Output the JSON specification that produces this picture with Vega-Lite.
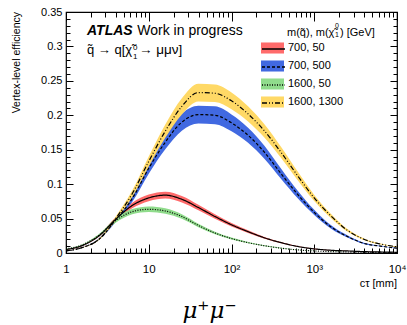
{
  "$schema": "https://vega.github.io/schema/vega-lite/v6.json",
  "width": 331,
  "height": 241,
  "autosize": "none",
  "padding": {"left": 66, "top": 12, "right": 10, "bottom": 72},
  "background": "white",
  "config": {"view": {"stroke": "black", "strokeWidth": 1.2}, "font": "Liberation Sans", "axis": {"zindex": 1}},
  "title": {"text": "μ⁺μ⁻", "orient": "bottom", "anchor": "middle", "font": "DejaVu Serif", "fontStyle": "italic", "fontSize": 23, "fontWeight": "normal", "color": "black", "dx": -22, "offset": 11},
  "data": {"values": [
    {"sample":"700, 50","ct":1,"eff":0.005,"lo":0.0047,"hi":0.0053},
    {"sample":"700, 50","ct":1.585,"eff":0.011,"lo":0.0103,"hi":0.0117},
    {"sample":"700, 50","ct":2.512,"eff":0.025,"lo":0.0235,"hi":0.0265},
    {"sample":"700, 50","ct":3.981,"eff":0.049,"lo":0.0461,"hi":0.0519},
    {"sample":"700, 50","ct":6.31,"eff":0.069,"lo":0.0649,"hi":0.0731},
    {"sample":"700, 50","ct":10,"eff":0.080,"lo":0.0752,"hi":0.0848},
    {"sample":"700, 50","ct":15.85,"eff":0.084,"lo":0.079,"hi":0.089},
    {"sample":"700, 50","ct":25.12,"eff":0.078,"lo":0.0733,"hi":0.0827},
    {"sample":"700, 50","ct":39.81,"eff":0.066,"lo":0.062,"hi":0.070},
    {"sample":"700, 50","ct":63.1,"eff":0.053,"lo":0.0498,"hi":0.0562},
    {"sample":"700, 50","ct":100,"eff":0.041,"lo":0.0385,"hi":0.0435},
    {"sample":"700, 50","ct":158.5,"eff":0.031,"lo":0.0291,"hi":0.0329},
    {"sample":"700, 50","ct":251.2,"eff":0.022,"lo":0.0207,"hi":0.0233},
    {"sample":"700, 50","ct":398.1,"eff":0.015,"lo":0.0141,"hi":0.0159},
    {"sample":"700, 50","ct":631,"eff":0.0095,"lo":0.0089,"hi":0.0101},
    {"sample":"700, 50","ct":1000,"eff":0.006,"lo":0.0056,"hi":0.0064},
    {"sample":"700, 50","ct":1585,"eff":0.004,"lo":0.0038,"hi":0.0042},
    {"sample":"700, 50","ct":2512,"eff":0.003,"lo":0.0028,"hi":0.0032},
    {"sample":"700, 50","ct":3981,"eff":0.002,"lo":0.0019,"hi":0.0021},
    {"sample":"700, 50","ct":6310,"eff":0.0015,"lo":0.0014,"hi":0.0016},
    {"sample":"700, 50","ct":10000,"eff":0.001,"lo":0.0009,"hi":0.0011},
    {"sample":"700, 500","ct":1,"eff":0.003,"lo":0.0028,"hi":0.0032},
    {"sample":"700, 500","ct":1.585,"eff":0.008,"lo":0.0075,"hi":0.0085},
    {"sample":"700, 500","ct":2.512,"eff":0.020,"lo":0.0187,"hi":0.0213},
    {"sample":"700, 500","ct":3.981,"eff":0.048,"lo":0.0449,"hi":0.0511},
    {"sample":"700, 500","ct":6.31,"eff":0.079,"lo":0.0739,"hi":0.0841},
    {"sample":"700, 500","ct":10,"eff":0.123,"lo":0.115,"hi":0.131},
    {"sample":"700, 500","ct":15.85,"eff":0.161,"lo":0.1505,"hi":0.1715},
    {"sample":"700, 500","ct":25.12,"eff":0.190,"lo":0.1775,"hi":0.2025},
    {"sample":"700, 500","ct":39.81,"eff":0.201,"lo":0.188,"hi":0.214},
    {"sample":"700, 500","ct":63.1,"eff":0.200,"lo":0.187,"hi":0.213},
    {"sample":"700, 500","ct":100,"eff":0.189,"lo":0.1767,"hi":0.2013},
    {"sample":"700, 500","ct":158.5,"eff":0.171,"lo":0.16,"hi":0.182},
    {"sample":"700, 500","ct":251.2,"eff":0.146,"lo":0.1365,"hi":0.1555},
    {"sample":"700, 500","ct":398.1,"eff":0.115,"lo":0.1075,"hi":0.1225},
    {"sample":"700, 500","ct":631,"eff":0.085,"lo":0.0795,"hi":0.0905},
    {"sample":"700, 500","ct":1000,"eff":0.059,"lo":0.0552,"hi":0.0628},
    {"sample":"700, 500","ct":1585,"eff":0.038,"lo":0.0355,"hi":0.0405},
    {"sample":"700, 500","ct":2512,"eff":0.024,"lo":0.0224,"hi":0.0256},
    {"sample":"700, 500","ct":3981,"eff":0.014,"lo":0.0131,"hi":0.0149},
    {"sample":"700, 500","ct":6310,"eff":0.010,"lo":0.0094,"hi":0.0106},
    {"sample":"700, 500","ct":10000,"eff":0.007,"lo":0.0065,"hi":0.0075},
    {"sample":"1600, 50","ct":1,"eff":0.006,"lo":0.0056,"hi":0.0064},
    {"sample":"1600, 50","ct":1.585,"eff":0.012,"lo":0.0112,"hi":0.0128},
    {"sample":"1600, 50","ct":2.512,"eff":0.026,"lo":0.0243,"hi":0.0277},
    {"sample":"1600, 50","ct":3.981,"eff":0.047,"lo":0.0439,"hi":0.0501},
    {"sample":"1600, 50","ct":6.31,"eff":0.060,"lo":0.0561,"hi":0.0639},
    {"sample":"1600, 50","ct":10,"eff":0.0635,"lo":0.0594,"hi":0.0676},
    {"sample":"1600, 50","ct":15.85,"eff":0.061,"lo":0.057,"hi":0.065},
    {"sample":"1600, 50","ct":25.12,"eff":0.053,"lo":0.0496,"hi":0.0564},
    {"sample":"1600, 50","ct":39.81,"eff":0.040,"lo":0.0374,"hi":0.0426},
    {"sample":"1600, 50","ct":63.1,"eff":0.029,"lo":0.0271,"hi":0.0309},
    {"sample":"1600, 50","ct":100,"eff":0.021,"lo":0.0196,"hi":0.0224},
    {"sample":"1600, 50","ct":158.5,"eff":0.015,"lo":0.014,"hi":0.016},
    {"sample":"1600, 50","ct":251.2,"eff":0.0105,"lo":0.0098,"hi":0.0112},
    {"sample":"1600, 50","ct":398.1,"eff":0.007,"lo":0.0065,"hi":0.0075},
    {"sample":"1600, 50","ct":631,"eff":0.0045,"lo":0.0042,"hi":0.0048},
    {"sample":"1600, 50","ct":1000,"eff":0.003,"lo":0.0028,"hi":0.0032},
    {"sample":"1600, 50","ct":1585,"eff":0.002,"lo":0.0019,"hi":0.0021},
    {"sample":"1600, 50","ct":2512,"eff":0.0015,"lo":0.0014,"hi":0.0016},
    {"sample":"1600, 50","ct":3981,"eff":0.001,"lo":0.00094,"hi":0.00106},
    {"sample":"1600, 50","ct":6310,"eff":0.0008,"lo":0.00075,"hi":0.00085},
    {"sample":"1600, 50","ct":10000,"eff":0.0005,"lo":0.00047,"hi":0.00053},
    {"sample":"1600, 1300","ct":1,"eff":0.003,"lo":0.0028,"hi":0.0032},
    {"sample":"1600, 1300","ct":1.585,"eff":0.008,"lo":0.0076,"hi":0.0084},
    {"sample":"1600, 1300","ct":2.512,"eff":0.020,"lo":0.0189,"hi":0.0211},
    {"sample":"1600, 1300","ct":3.981,"eff":0.050,"lo":0.0473,"hi":0.0527},
    {"sample":"1600, 1300","ct":6.31,"eff":0.086,"lo":0.0813,"hi":0.0907},
    {"sample":"1600, 1300","ct":10,"eff":0.133,"lo":0.1257,"hi":0.1403},
    {"sample":"1600, 1300","ct":15.85,"eff":0.177,"lo":0.1673,"hi":0.1867},
    {"sample":"1600, 1300","ct":25.12,"eff":0.213,"lo":0.2013,"hi":0.2247},
    {"sample":"1600, 1300","ct":39.81,"eff":0.233,"lo":0.2202,"hi":0.2458},
    {"sample":"1600, 1300","ct":63.1,"eff":0.232,"lo":0.2192,"hi":0.2448},
    {"sample":"1600, 1300","ct":100,"eff":0.221,"lo":0.2088,"hi":0.2332},
    {"sample":"1600, 1300","ct":158.5,"eff":0.202,"lo":0.1909,"hi":0.2131},
    {"sample":"1600, 1300","ct":251.2,"eff":0.177,"lo":0.1673,"hi":0.1867},
    {"sample":"1600, 1300","ct":398.1,"eff":0.146,"lo":0.138,"hi":0.154},
    {"sample":"1600, 1300","ct":631,"eff":0.112,"lo":0.1058,"hi":0.1182},
    {"sample":"1600, 1300","ct":1000,"eff":0.080,"lo":0.0756,"hi":0.0844},
    {"sample":"1600, 1300","ct":1585,"eff":0.054,"lo":0.051,"hi":0.057},
    {"sample":"1600, 1300","ct":2512,"eff":0.033,"lo":0.0312,"hi":0.0348},
    {"sample":"1600, 1300","ct":3981,"eff":0.020,"lo":0.0189,"hi":0.0211},
    {"sample":"1600, 1300","ct":6310,"eff":0.013,"lo":0.0123,"hi":0.0137},
    {"sample":"1600, 1300","ct":10000,"eff":0.009,"lo":0.0085,"hi":0.0095}
  ]},
  "resolve": {"axis": {"x": "independent", "y": "independent"}},
  "layer": [
    {
      "mark": {"type": "area", "interpolate": "monotone", "opacity": 1},
      "encoding": {
        "x": {"field": "ct", "type": "quantitative",
          "scale": {"type": "log", "domain": [1, 10000], "nice": false},
          "axis": {"orient": "top", "offset": -241, "grid": false, "domain": false, "title": null,
            "values": [1,2,3,4,5,6,7,8,9,10,20,30,40,50,60,70,80,90,100,200,300,400,500,600,700,800,900,1000,2000,3000,4000,5000,6000,7000,8000,9000,10000],
            "labelExpr": "datum.value == 1 ? '1' : datum.value == 10 ? '10' : datum.value == 100 ? '10²' : datum.value == 1000 ? '10³' : datum.value == 10000 ? '10⁴' : ''",
            "labelOverlap": false, "labelFlush": false, "labelBaseline": "top",
            "tickSize": 9,
            "tickDash": {"condition": {"test": "indexof([1,10,100,1000,10000], datum.value) >= 0", "value": [10, 0]}, "value": [5, 20]},
            "tickColor": "black", "tickWidth": 1,
            "labelFont": "Liberation Sans", "labelFontSize": 11.5, "labelColor": "black", "labelPadding": -19}},
        "y": {"field": "lo", "type": "quantitative",
          "scale": {"domain": [0, 0.35], "nice": false, "zero": false},
          "axis": {"orient": "right", "offset": -331, "grid": false, "domain": false, "title": null,
            "values": [0,0.01,0.02,0.03,0.04,0.05,0.06,0.07,0.08,0.09,0.1,0.11,0.12,0.13,0.14,0.15,0.16,0.17,0.18,0.19,0.2,0.21,0.22,0.23,0.24,0.25,0.26,0.27,0.28,0.29,0.3,0.31,0.32,0.33,0.34,0.35],
            "labelExpr": "round(datum.value*100) % 5 === 0 ? toString(round(datum.value*100)/100) : ''",
            "labelOverlap": false, "labelFlush": false, "labelAlign": "right", "labelBaseline": "middle",
            "tickSize": 7,
            "tickDash": {"condition": {"test": "round(datum.value*100) % 5 === 0", "value": [10, 0]}, "value": [4, 20]},
            "tickColor": "black", "tickWidth": 1,
            "labelFont": "Liberation Sans", "labelFontSize": 11, "labelColor": "black", "labelPadding": -11}},
        "y2": {"field": "hi"},
        "fill": {"field": "sample", "type": "nominal",
          "scale": {"domain": ["700, 50", "700, 500", "1600, 50", "1600, 1300"], "range": ["#ff6b6b", "#4169e1", "#90dc8c", "#ffd966"]},
          "legend": {"orient": "none", "legendX": 195, "legendY": 24.5, "title": null, "padding": 0,
            "symbolType": "M-1,-0.48H1V0.48H-1Z", "symbolSize": 529, "symbolStrokeWidth": 0, "symbolOpacity": 1,
            "rowPadding": -9, "labelOffset": 4, "labelFont": "Liberation Sans", "labelFontSize": 11, "labelColor": "black"}}
      }
    },
    {
      "mark": {"type": "line", "interpolate": "monotone", "color": "black", "strokeWidth": 1.2},
      "encoding": {
        "x": {"field": "ct", "type": "quantitative",
          "axis": {"orient": "bottom", "offset": -241, "grid": false, "labels": false, "domain": false, "title": null,
            "values": [1,2,3,4,5,6,7,8,9,10,20,30,40,50,60,70,80,90,100,200,300,400,500,600,700,800,900,1000,2000,3000,4000,5000,6000,7000,8000,9000,10000],
            "tickSize": 9,
            "tickDash": {"condition": {"test": "indexof([1,10,100,1000,10000], datum.value) >= 0", "value": [10, 0]}, "value": [5, 20]},
            "tickColor": "black", "tickWidth": 1}},
        "y": {"field": "eff", "type": "quantitative",
          "axis": {"orient": "left", "offset": -331, "grid": false, "labels": false, "domain": false, "title": null,
            "values": [0,0.01,0.02,0.03,0.04,0.05,0.06,0.07,0.08,0.09,0.1,0.11,0.12,0.13,0.14,0.15,0.16,0.17,0.18,0.19,0.2,0.21,0.22,0.23,0.24,0.25,0.26,0.27,0.28,0.29,0.3,0.31,0.32,0.33,0.34,0.35],
            "tickSize": 7,
            "tickDash": {"condition": {"test": "round(datum.value*100) % 5 === 0", "value": [10, 0]}, "value": [4, 20]},
            "tickColor": "black", "tickWidth": 1}},
        "strokeDash": {"field": "sample", "type": "nominal",
          "sort": ["700, 50", "700, 500", "1600, 50", "1600, 1300"],
          "scale": {"range": [[1, 0], [3, 2], [1, 1.5], [5, 2, 1, 2, 1, 2]]},
          "legend": {"orient": "none", "legendX": 195, "legendY": 24.5, "title": null, "padding": 0,
            "symbolType": "stroke", "symbolSize": 529, "symbolStrokeColor": "black", "symbolStrokeWidth": 1.5,
            "rowPadding": -9, "labelOffset": 4, "labelFont": "Liberation Sans", "labelFontSize": 11, "labelExpr": "''"}}
      }
    },
    {
      "data": {"values": [{"t": "cτ [mm]"}]},
      "mark": {"type": "text", "align": "right", "baseline": "middle", "font": "Liberation Sans", "fontSize": 11, "color": "black"},
      "encoding": {"x": {"datum": 10000, "type": "quantitative", "axis": null}, "y": {"datum": -0.045, "type": "quantitative", "axis": null}, "text": {"field": "t"}}
    },
    {
      "data": {"values": [{"t": "Vertex-level efficiency"}]},
      "mark": {"type": "text", "align": "right", "baseline": "middle", "angle": 270, "font": "Liberation Sans", "fontSize": 10.5, "color": "black"},
      "encoding": {"x": {"datum": 0.256, "type": "quantitative", "axis": null}, "y": {"datum": 0.35, "type": "quantitative", "axis": null}, "text": {"field": "t"}}
    },
    {
      "data": {"values": [{"t": "ATLAS"}]},
      "mark": {"type": "text", "align": "left", "baseline": "alphabetic", "font": "Liberation Sans", "fontSize": 14, "fontWeight": "bold", "fontStyle": "italic", "color": "black"},
      "encoding": {"x": {"datum": 1.794, "type": "quantitative", "axis": null}, "y": {"datum": 0.3164, "type": "quantitative", "axis": null}, "text": {"field": "t"}}
    },
    {
      "data": {"values": [{"t": "Work in progress"}]},
      "mark": {"type": "text", "align": "left", "baseline": "alphabetic", "font": "Liberation Sans", "fontSize": 14, "color": "black"},
      "encoding": {"x": {"datum": 7.27, "type": "quantitative", "axis": null}, "y": {"datum": 0.3164, "type": "quantitative", "axis": null}, "text": {"field": "t"}}
    },
    {
      "data": {"values": [{"t": "q̃ → q[χ̃"}]},
      "mark": {"type": "text", "align": "left", "baseline": "alphabetic", "font": "Liberation Sans", "fontSize": 13, "color": "black"},
      "encoding": {"x": {"datum": 1.794, "type": "quantitative", "axis": null}, "y": {"datum": 0.2892, "type": "quantitative", "axis": null}, "text": {"field": "t"}}
    },
    {
      "data": {"values": [{"t": "0"}]},
      "mark": {"type": "text", "align": "left", "baseline": "alphabetic", "font": "Liberation Sans", "fontSize": 8, "color": "black"},
      "encoding": {"x": {"datum": 6.45, "type": "quantitative", "axis": null}, "y": {"datum": 0.2945, "type": "quantitative", "axis": null}, "text": {"field": "t"}}
    },
    {
      "data": {"values": [{"t": "1"}]},
      "mark": {"type": "text", "align": "left", "baseline": "alphabetic", "font": "Liberation Sans", "fontSize": 8, "color": "black"},
      "encoding": {"x": {"datum": 6.45, "type": "quantitative", "axis": null}, "y": {"datum": 0.282, "type": "quantitative", "axis": null}, "text": {"field": "t"}}
    },
    {
      "data": {"values": [{"t": "→ μμν]"}]},
      "mark": {"type": "text", "align": "left", "baseline": "alphabetic", "font": "Liberation Sans", "fontSize": 13.5, "color": "black"},
      "encoding": {"x": {"datum": 7.63, "type": "quantitative", "axis": null}, "y": {"datum": 0.2892, "type": "quantitative", "axis": null}, "text": {"field": "t"}}
    },
    {
      "data": {"values": [{"t": "m(q̃), m(χ̃"}]},
      "mark": {"type": "text", "align": "left", "baseline": "alphabetic", "font": "Liberation Sans", "fontSize": 11, "color": "black"},
      "encoding": {"x": {"datum": 468.8, "type": "quantitative", "axis": null}, "y": {"datum": 0.3154, "type": "quantitative", "axis": null}, "text": {"field": "t"}}
    },
    {
      "data": {"values": [{"t": "0"}]},
      "mark": {"type": "text", "align": "left", "baseline": "alphabetic", "font": "Liberation Sans", "fontSize": 7, "color": "black"},
      "encoding": {"x": {"datum": 1782, "type": "quantitative", "axis": null}, "y": {"datum": 0.327, "type": "quantitative", "axis": null}, "text": {"field": "t"}}
    },
    {
      "data": {"values": [{"t": "1"}]},
      "mark": {"type": "text", "align": "left", "baseline": "alphabetic", "font": "Liberation Sans", "fontSize": 7, "color": "black"},
      "encoding": {"x": {"datum": 1782, "type": "quantitative", "axis": null}, "y": {"datum": 0.314, "type": "quantitative", "axis": null}, "text": {"field": "t"}}
    },
    {
      "data": {"values": [{"t": ") [GeV]"}]},
      "mark": {"type": "text", "align": "left", "baseline": "alphabetic", "font": "Liberation Sans", "fontSize": 11, "color": "black"},
      "encoding": {"x": {"datum": 2047, "type": "quantitative", "axis": null}, "y": {"datum": 0.3154, "type": "quantitative", "axis": null}, "text": {"field": "t"}}
    }
  ]
}
